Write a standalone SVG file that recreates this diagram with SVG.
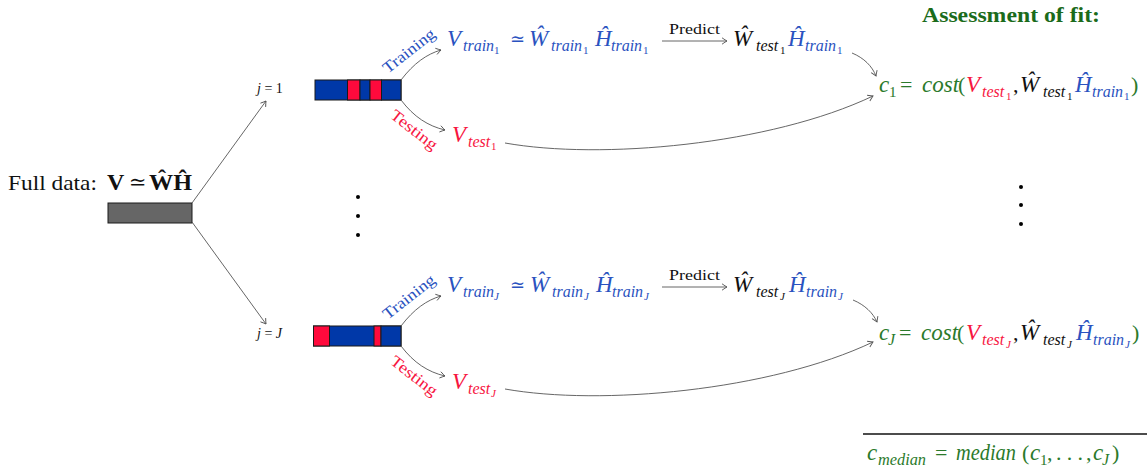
<svg xmlns="http://www.w3.org/2000/svg" width="1147" height="471" viewBox="0 0 1147 471">
  <defs>
    <style>
      text { font-family: "Liberation Serif", "DejaVu Serif", serif; }
      .rm { font-size: 22px; }
      .rel { font-size: 18px; }
      .m { font-size: 23px; font-style: italic; }
      .s { font-size: 16px; font-style: italic; }
      .su { font-size: 15px; }
      .ss { font-size: 11px; }
      .ssi { font-size: 11px; font-style: italic; }
      .blue { fill: #2a52c0; }
      .red { fill: #f7163f; }
      .green { fill: #2b7a2b; }
      .black { fill: #111; }
      .lbl { font-size: 16px; }
      .conn { fill: none; stroke: #555; stroke-width: 0.9; marker-end: url(#arr); }
      .bar { stroke: #1a1a1a; stroke-width: 1; }
      .bb { fill: #0038a8; }
      .br { fill: #ff0a3c; }
    </style>
    <marker id="arr" viewBox="-6 -4 7 8" markerWidth="7" markerHeight="8" refX="0" refY="0" orient="auto" markerUnits="userSpaceOnUse">
      <path d="M-5,-3.2 Q-1.5,-0.8 0,0 Q-1.5,0.8 -5,3.2" fill="none" stroke="#555" stroke-width="0.9"/>
    </marker>
  </defs>

  <rect width="1147" height="471" fill="#fff"/>

  <!-- full data matrix -->
  <g id="full-data">
    <text class="black" font-size="21" x="8" y="190" textLength="89" lengthAdjust="spacingAndGlyphs">Full data:</text>
    <text class="black" font-size="24" x="107" y="190" font-weight="bold">V</text>
    <text class="black" font-size="21" x="129" y="189">≃</text>
    <text class="black" font-size="24" x="149" y="190" font-weight="bold" textLength="43" lengthAdjust="spacingAndGlyphs">ŴĤ</text>
    <rect x="108" y="203" width="84" height="20" fill="#666" class="bar"/>
  </g>

  <!-- split j = 1 -->
  <g id="split-1">
    <text class="black" font-size="14" x="257" y="93"><tspan font-style="italic">j</tspan> = 1</text>
    <rect x="315" y="80" width="86" height="20" class="bar bb"/>
    <rect x="347.5" y="80" width="12.5" height="20" class="bar br"/>
    <rect x="360" y="80" width="10" height="20" class="bar bb"/>
    <rect x="370" y="80" width="11.5" height="20" class="bar br"/>
    <rect x="381.5" y="80" width="19.5" height="20" class="bar bb"/>
  </g>

  <!-- split j = J -->
  <g id="split-J">
    <text class="black" font-size="14" x="257" y="338"><tspan font-style="italic">j</tspan> = <tspan font-style="italic">J</tspan></text>
    <rect x="313.5" y="326" width="87.5" height="20" class="bar bb"/>
    <rect x="313.5" y="326" width="16" height="20" class="bar br"/>
    <rect x="374" y="326" width="7" height="20" class="bar br"/>
    <rect x="381" y="326" width="20" height="20" class="bar bb"/>
  </g>

  <!-- branch labels -->
  <g id="labels-1">
    <text class="lbl blue" transform="translate(409,51) rotate(-38)" text-anchor="middle" y="5" textLength="62" lengthAdjust="spacingAndGlyphs">Training</text>
    <text class="lbl red" transform="translate(414,130) rotate(38)" text-anchor="middle" y="5" textLength="55" lengthAdjust="spacingAndGlyphs">Testing</text>
  </g>
  <g id="labels-J" transform="translate(0,246)">
    <text class="lbl blue" transform="translate(409,51) rotate(-38)" text-anchor="middle" y="5" textLength="62" lengthAdjust="spacingAndGlyphs">Training</text>
    <text class="lbl red" transform="translate(414,130) rotate(38)" text-anchor="middle" y="5" textLength="55" lengthAdjust="spacingAndGlyphs">Testing</text>
  </g>

  <!-- training factorisation -->
  <g id="train-1" class="blue">
    <text class="m" x="447" y="46">V</text>
    <text class="s" x="463" y="51">train</text>
    <text class="ss" x="494" y="54">1</text>
    <text class="rel" x="510" y="45">≃</text>
    <text class="m" x="529" y="46">Ŵ</text>
    <text class="s" x="551" y="51">train</text>
    <text class="ss" x="583" y="54">1</text>
    <text class="m" x="595" y="46">Ĥ</text>
    <text class="s" x="611" y="51">train</text>
    <text class="ss" x="643" y="54">1</text>
  </g>
  <g id="train-J" class="blue" transform="translate(0,246)">
    <text class="m" x="447" y="46">V</text>
    <text class="s" x="463" y="51">train</text>
    <text class="ssi" x="494" y="54">J</text>
    <text class="rel" x="510" y="45">≃</text>
    <text class="m" x="530" y="46">Ŵ</text>
    <text class="s" x="552" y="51">train</text>
    <text class="ssi" x="584" y="54">J</text>
    <text class="m" x="596" y="46">Ĥ</text>
    <text class="s" x="612" y="51">train</text>
    <text class="ssi" x="644" y="54">J</text>
  </g>

  <!-- predict step -->
  <g id="predict-1">
    <text class="black" x="669" y="34" font-size="15" textLength="51" lengthAdjust="spacingAndGlyphs">Predict</text>
    <text class="m black" x="733" y="46">Ŵ</text>
    <text class="s black" x="756" y="51">test</text>
    <text class="ss black" x="780" y="54">1</text>
    <text class="m blue" x="788" y="46">Ĥ</text>
    <text class="s blue" x="805" y="51">train</text>
    <text class="ss blue" x="837" y="54">1</text>
  </g>
  <g id="predict-J" transform="translate(0,246)">
    <text class="black" x="669" y="34" font-size="15" textLength="51" lengthAdjust="spacingAndGlyphs">Predict</text>
    <text class="m black" x="733" y="46">Ŵ</text>
    <text class="s black" x="756" y="51">test</text>
    <text class="ssi black" x="780" y="54">J</text>
    <text class="m blue" x="789" y="46">Ĥ</text>
    <text class="s blue" x="806" y="51">train</text>
    <text class="ssi blue" x="838" y="54">J</text>
  </g>

  <!-- held-out data -->
  <g id="test-1" class="red">
    <text class="m" x="452" y="142">V</text>
    <text class="s" x="468" y="147">test</text>
    <text class="ss" x="491" y="150">1</text>
  </g>
  <g id="test-J" class="red" transform="translate(0,246)">
    <text class="m" x="452" y="143">V</text>
    <text class="s" x="468" y="148">test</text>
    <text class="ssi" x="491" y="151">J</text>
  </g>

  <!-- cost per split -->
  <g id="cost-1">
    <text class="m green" x="879" y="92">c</text>
    <text class="su green" x="889" y="97">1</text>
    <text class="rm green" x="900" y="92">=</text>
    <text class="m green" x="922" y="92">cost</text>
    <text class="rm green" x="958" y="92">(</text>
    <text class="m red" x="966" y="92">V</text>
    <text class="s red" x="982" y="97">test</text>
    <text class="ss red" x="1006" y="100">1</text>
    <text class="rm black" x="1013" y="92">,</text>
    <text class="m black" x="1020" y="92">Ŵ</text>
    <text class="s black" x="1043" y="97">test</text>
    <text class="ss black" x="1067" y="100">1</text>
    <text class="m blue" x="1075" y="92">Ĥ</text>
    <text class="s blue" x="1092" y="97">train</text>
    <text class="ss blue" x="1124" y="100">1</text>
    <text class="rm green" x="1131" y="92">)</text>
  </g>
  <g id="cost-J" transform="translate(0,246)">
    <text class="m green" x="879" y="94">c</text>
    <text class="s green" x="888" y="99">J</text>
    <text class="rm green" x="899" y="94">=</text>
    <text class="m green" x="921" y="94">cost</text>
    <text class="rm green" x="957" y="94">(</text>
    <text class="m red" x="966" y="94">V</text>
    <text class="s red" x="982" y="99">test</text>
    <text class="ssi red" x="1006" y="102">J</text>
    <text class="rm black" x="1013" y="94">,</text>
    <text class="m black" x="1020" y="94">Ŵ</text>
    <text class="s black" x="1043" y="99">test</text>
    <text class="ssi black" x="1067" y="102">J</text>
    <text class="m blue" x="1076" y="94">Ĥ</text>
    <text class="s blue" x="1093" y="99">train</text>
    <text class="ssi blue" x="1125" y="102">J</text>
    <text class="rm green" x="1132" y="94">)</text>
  </g>

  <!-- column heading -->
  <g id="assessment">
    <text x="922" y="22" font-size="20" font-weight="bold" fill="#1b6b1b" textLength="178" lengthAdjust="spacingAndGlyphs">Assessment of fit:</text>
  </g>

  <!-- aggregate -->
  <g id="median">
    <line x1="863" y1="434" x2="1147" y2="434" stroke="#111" stroke-width="1.4"/>
    <text class="m green" x="867" y="460">c</text>
    <text class="s green" x="878" y="465" textLength="48" lengthAdjust="spacingAndGlyphs">median</text>
    <text class="rm green" x="935" y="460">=</text>
    <text class="m green" x="956" y="460" textLength="60" lengthAdjust="spacingAndGlyphs">median</text>
    <text class="rm green" x="1022" y="460">(</text>
    <text class="m green" x="1030" y="460">c</text>
    <text class="su green" x="1040" y="465">1</text>
    <text class="rm green" x="1047" y="460">,</text>
    <text class="rm green" x="1056" y="460" textLength="27" lengthAdjust="spacing">...</text>
    <text class="rm green" x="1086" y="460">,</text>
    <text class="m green" x="1093" y="460">c</text>
    <text class="s green" x="1102" y="465">J</text>
    <text class="rm green" x="1112" y="460">)</text>
  </g>

  <!-- omitted splits -->
  <g id="ellipsis" fill="#000">
    <circle cx="358" cy="197" r="2"/>
    <circle cx="358" cy="216" r="2"/>
    <circle cx="358" cy="235" r="2"/>
    <circle cx="1021" cy="187" r="2"/>
    <circle cx="1021" cy="205" r="2"/>
    <circle cx="1021" cy="224" r="2"/>
  </g>

  <!-- connectors -->
  <g id="connectors">
    <path class="conn" d="M192,203 L266,101"/>
    <path class="conn" d="M192,222 L266,324"/>
    <path class="conn" d="M401,80 C414,63 427,54 441,50"/>
    <path class="conn" d="M401,100 C414,117 428,126 445,130"/>
    <path class="conn" d="M662,41 L727,41"/>
    <path class="conn" d="M852,53 C864,58 872,66 876,76"/>
    <path class="conn" d="M505,143 C600,160 770,145 873,96"/>
    <path class="conn" d="M401,326 C414,309 427,300 441,296"/>
    <path class="conn" d="M401,346 C414,363 428,372 445,376"/>
    <path class="conn" d="M662,287 L727,287"/>
    <path class="conn" d="M853,300 C865,305 873,313 877,322"/>
    <path class="conn" d="M505,389 C600,406 770,391 873,342"/>
  </g>
</svg>
